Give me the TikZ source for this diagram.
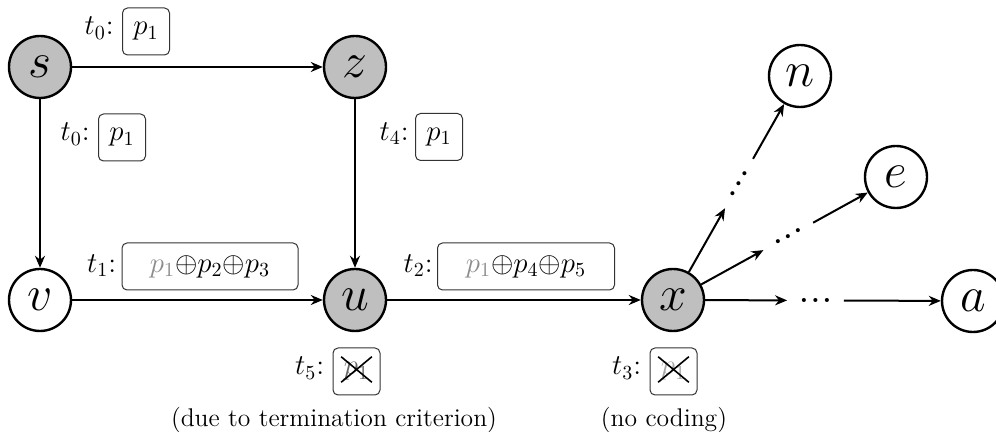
\documentclass[tikz,border=0pt]{standalone}
\usetikzlibrary{arrows.meta,shapes.misc,calc}
\begin{document}
\begin{tikzpicture}[x=0.5pt,y=-0.5pt,
  vtx/.style={circle,draw,line width=1.2pt,minimum size=31pt,inner sep=0pt,font=\fontsize{23}{28}\selectfont},
  act/.style={vtx,fill=black!25},
  edge/.style={line width=1pt,-{Stealth[length=6pt,width=5pt]}},
  pbox/.style={draw=black!80,line width=0.5pt,rounded corners=2.5pt,minimum height=23.5pt,minimum width=23.5pt,inner xsep=3pt,font=\Large},
  tlab/.style={anchor=base east,inner sep=0pt,font=\Large},
  dotn/.style={inner sep=0pt,minimum width=28pt,minimum height=4pt,font=\fontsize{14}{14}\bfseries},
  xmark/.style={cross out,draw,line width=0.8pt,inner xsep=1pt,inner ysep=1.5pt,font=\Large},
  captext/.style={anchor=base,inner sep=0pt,font=\fontsize{12.8}{15}\selectfont}]
\useasboundingbox (0,0) rectangle (996,432);
% vertices
\node[act] (s) at (40,67) {$s$};
\node[act] (z) at (355,67) {$z$};
\node[vtx] (v) at (40,300) {$v$};
\node[act] (u) at (355,300) {$u$};
\node[act] (x) at (673,300) {$x$};
\node[vtx] (n) at (800,76) {$n$};
\node[vtx] (e) at (896,177) {$e$};
\node[vtx] (a) at (973,301) {$a$};
% edges
\draw[edge] (s) -- (z);
\draw[edge] (s) -- (v);
\draw[edge] (z) -- (u);
\draw[edge] (v) -- (u);
\draw[edge] (u) -- (x);
% dots towards n, e, a
\node[dotn,rotate=60.4] (d1) at ($(x)!0.52!(n)$) {.\kern1.4pt.\kern1.4pt.};
\node[dotn,rotate=28.9] (d2) at ($(x)!0.517!(e)$) {.\kern1.4pt.\kern1.4pt.};
\node[dotn] (d3) at ($(x)!0.475!(a)$) {.\kern1.4pt.\kern1.4pt.};
\draw[edge] (x) -- (d1);
\draw[edge] (d1) -- (n);
\draw[edge] (x) -- (d2);
\draw[edge] (d2) -- (e);
\draw[edge] (x) -- (d3);
\draw[edge] (d3) -- (a);
% packet labels
\node[pbox] (b1) at (146,31.5) {$p_1$};
\node[tlab] (l1) at ([xshift=-4pt]b1.base west) {$t_0$:};
\node[pbox] (b2) at (122,137.5) {$p_1$};
\node[tlab] (l2) at ([xshift=-4pt]b2.base west) {$t_0$:};
\node[pbox] (b3) at (439,137) {$p_1$};
\node[tlab] (l3) at ([xshift=-3pt]b3.base west) {$t_4$:};
\node[pbox,minimum width=88pt] (b4) at (210,266.5) {$\textcolor{black!45}{p_1}{\oplus}p_2{\oplus}p_3$};
\node[tlab] (l4) at ([xshift=-2.5pt]b4.base west) {$t_1$:};
\node[pbox,minimum width=88.5pt] (b5) at (526,266.5) {$\textcolor{black!45}{p_1}{\oplus}p_4{\oplus}p_5$};
\node[tlab] (l5) at ([xshift=-2pt]b5.base west) {$t_2$:};
\node[pbox] (b6) at (356.5,371.5) {$\textcolor{black!60}{p_1}$};
\node[xmark] (c6) at ([yshift=1pt]b6.center) {$\phantom{p_1}$};
\node[tlab] (l6) at ([xshift=-4pt]b6.base west) {$t_5$:};
\node[pbox] (b7) at (673.5,371.5) {$\textcolor{black!35}{p_1}$};
\node[xmark] (c7) at ([yshift=1pt]b7.center) {$\phantom{p_1}$};
\node[tlab] (l7) at ([xshift=-4pt]b7.base west) {$t_3$:};
% captions
\node[captext] (k1) at (334,427) {(due to termination criterion)};
\node[captext] (k2) at (664,427) {(no coding)};
\end{tikzpicture}
\end{document}
